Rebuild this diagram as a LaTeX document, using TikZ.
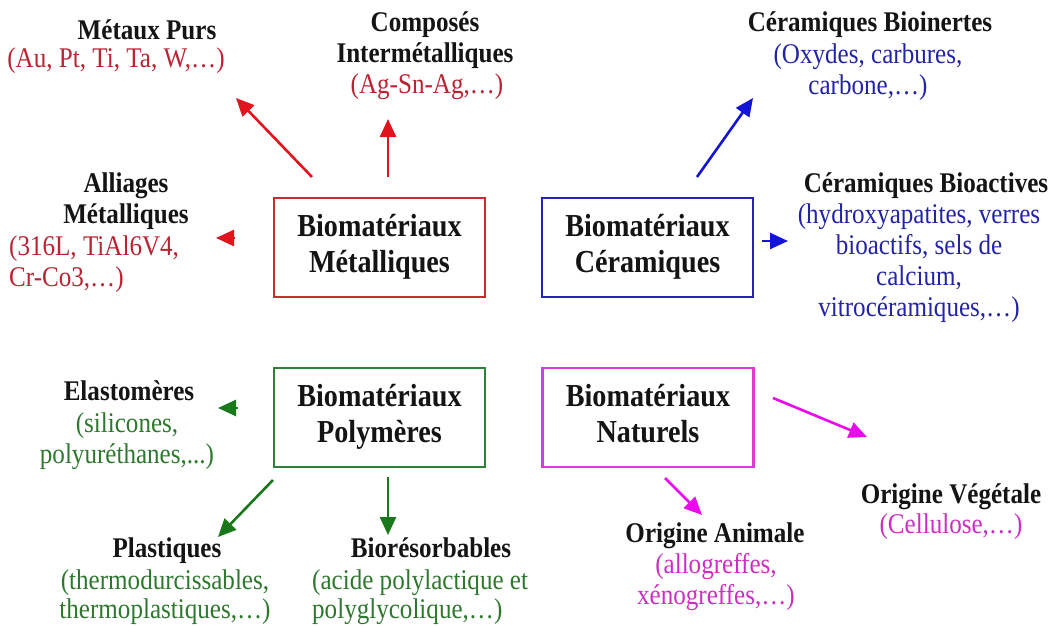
\documentclass[tikz,border=0pt]{standalone}
\usepackage{fontspec}
\setmainfont{Liberation Serif}[FakeStretch=0.88]
\usetikzlibrary{arrows.meta}
\definecolor{redframe}{RGB}{200,45,50}
\definecolor{redarrow}{RGB}{225,20,30}
\definecolor{redtext}{RGB}{185,35,50}
\definecolor{blueframe}{RGB}{35,35,185}
\definecolor{bluearrow}{RGB}{20,20,215}
\definecolor{bluetext}{RGB}{35,35,165}
\definecolor{greenframe}{RGB}{45,130,55}
\definecolor{greenarrow}{RGB}{25,120,25}
\definecolor{greentext}{RGB}{45,120,45}
\definecolor{magframe}{RGB}{215,60,215}
\definecolor{magarrow}{RGB}{235,10,235}
\definecolor{magtext}{RGB}{205,45,195}
\definecolor{titleblack}{RGB}{20,20,20}
\newcommand{\tabc}[1]{\begin{tabular}[t]{@{}c@{}}#1\end{tabular}}
\newcommand{\tabl}[1]{\begin{tabular}[t]{@{}l@{}}#1\end{tabular}}
\newcommand{\boxtab}[1]{\begin{tabular}{@{}c@{}}#1\end{tabular}}
\tikzset{
  catbox/.style={draw, line width=2.2pt, minimum width=211pt, minimum height=99pt, inner sep=0pt, text=titleblack, font=\fontsize{32}{36}\selectfont\bfseries},
  ttl/.style={anchor=base, inner sep=0pt, text=titleblack, font=\fontsize{28.5}{31}\selectfont\bfseries},
  dtl/.style={anchor=base, inner sep=0pt, font=\fontsize{28.5}{31}\selectfont},
  dtlb/.style={anchor=base, inner sep=0pt, font=\fontsize{28.5}{29}\selectfont},
  arr/.style={line width=2.6pt, -{Triangle[length=18pt,width=16pt]}},
}
\begin{document}
\begin{tikzpicture}[x=1pt,y=-1pt]
\useasboundingbox (0,0) rectangle (1053,626);
\clip (0,0) rectangle (1053,626);

% category boxes
\node[catbox, draw=redframe]   (met) at (379.5,247.5) {\boxtab{Biomatériaux\\Métalliques}};
\node[catbox, draw=blueframe]  (cer) at (647.5,247.5) {\boxtab{Biomatériaux\\Céramiques}};
\node[catbox, draw=greenframe] (pol) at (379.5,417.5) {\boxtab{Biomatériaux\\Polymères}};
\node[catbox, draw=magframe]   (nat) at (648,417.5)   {\boxtab{Biomatériaux\\Naturels}};

% metal labels
\node[ttl] (mpT) at (147,40) {\tabc{Métaux Purs}};
\node[dtl, text=redtext] (mpD) at (116,67) {\tabc{(Au, Pt, Ti, Ta, W,…)}};
\node[ttl] (ciT) at (425,32) {\tabc{Composés\\Intermétalliques}};
\node[dtl, text=redtext] (ciD) at (427,93) {\tabc{(Ag-Sn-Ag,…)}};
\node[ttl] (amT) at (126,192) {\tabc{Alliages\\Métalliques}};
\node[dtl, anchor=base west, text=redtext] (amD) at (9,255) {\tabl{(316L, TiAl6V4,\\Cr-Co3,…)}};

% ceramic labels
\node[ttl] (cbiT) at (870,32) {\tabc{Céramiques Bioinertes}};
\node[dtl, text=bluetext] (cbiD) at (868,64) {\tabc{(Oxydes, carbures,\\carbone,…)}};
\node[ttl] (cbaT) at (926,192) {\tabc{Céramiques Bioactives}};
\node[dtl, text=bluetext] (cbaD) at (919,223) {\tabc{(hydroxyapatites, verres\\bioactifs, sels de\\calcium,\\vitrocéramiques,…)}};

% polymer labels
\node[ttl] (elT) at (129,400) {\tabc{Elastomères}};
\node[dtl, text=greentext] (elD) at (127,432) {\tabc{(silicones,\\polyuréthanes,...)}};
\node[ttl] (plT) at (167,557) {\tabc{Plastiques}};
\node[dtlb, text=greentext] (plD) at (165,589) {\tabc{(thermodurcissables,\\thermoplastiques,…)}};
\node[ttl] (brT) at (431,557) {\tabc{Biorésorbables}};
\node[dtlb, anchor=base west, text=greentext] (brD) at (312,589) {\tabl{(acide polylactique et\\polyglycolique,…)}};

% natural labels
\node[ttl] (oaT) at (715,542) {\tabc{Origine Animale}};
\node[dtl, text=magtext] (oaD) at (716,573) {\tabc{(allogreffes,\\xénogreffes,…)}};
\node[ttl] (ovT) at (951,503) {\tabc{Origine Végétale}};
\node[dtl, text=magtext] (ovD) at (951,533) {\tabc{(Cellulose,…)}};

% arrow end points
\coordinate (a1s) at (312,177); \coordinate (a1e) at (236,98);
\coordinate (a2s) at (388,177); \coordinate (a2e) at (388,119);
\coordinate (a3s) at (235,238); \coordinate (a3e) at (216,238);
\coordinate (a4s) at (697,177); \coordinate (a4e) at (753,98);
\coordinate (a5s) at (762,241); \coordinate (a5e) at (788,241);
\coordinate (a6s) at (238,408); \coordinate (a6e) at (218,408);
\coordinate (a7s) at (273,480); \coordinate (a7e) at (218,537);
\coordinate (a8s) at (388,477); \coordinate (a8e) at (388,535);
\coordinate (a9s) at (773,398); \coordinate (a9e) at (867,437);
\coordinate (a10s) at (665,478); \coordinate (a10e) at (702,515);

\draw[arr, redarrow] (a1s) -- (a1e);
\draw[arr, redarrow] (a2s) -- (a2e);
\draw[arr, redarrow] (a3s) -- (a3e);
\draw[arr, bluearrow] (a4s) -- (a4e);
\draw[arr, bluearrow] (a5s) -- (a5e);
\draw[arr, greenarrow] (a6s) -- (a6e);
\draw[arr, greenarrow] (a7s) -- (a7e);
\draw[arr, greenarrow] (a8s) -- (a8e);
\draw[arr, magarrow] (a9s) -- (a9e);
\draw[arr, magarrow] (a10s) -- (a10e);
\end{tikzpicture}
\end{document}
